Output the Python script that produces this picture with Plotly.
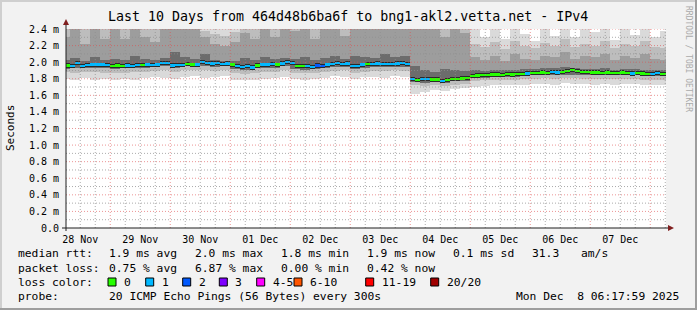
import plotly.graph_objects as go
from datetime import datetime, timedelta

# ---------------- data ----------------
# median RTT (ms), 2-hour bins starting 2025-11-28 06:00
median_ms = [
    1.96, 1.955, 1.99, 1.955, 1.965, 1.97, 1.97, 1.97, 1.965,
    1.95, 1.96, 1.955, 1.96, 1.955, 1.965, 1.965, 1.97, 1.965, 1.97, 1.99, 1.99,
    1.96, 1.965, 1.965, 1.975, 1.97, 1.97, 2.005, 1.99, 1.985, 1.99, 1.98, 1.985,
    1.97, 1.95, 1.945, 1.95, 1.935, 1.96, 1.97, 1.97, 1.975, 1.97, 1.985, 2.0,
    1.99, 1.955, 1.95, 1.95, 1.945, 1.96, 1.95, 1.97, 1.98, 1.99, 1.975, 1.985,
    1.95, 1.95, 1.97, 1.98, 1.975, 1.985, 1.98, 1.975, 1.98, 1.985, 1.99, 1.975,
    1.80, 1.785, 1.795, 1.80, 1.79, 1.79, 1.77, 1.785, 1.80, 1.80, 1.805, 1.81,
    1.835, 1.84, 1.845, 1.845, 1.85, 1.85, 1.845, 1.855, 1.85, 1.855, 1.86, 1.865,
    1.87, 1.87, 1.875, 1.87, 1.88, 1.875, 1.88, 1.89, 1.905, 1.895, 1.885, 1.88,
    1.875, 1.875, 1.87, 1.875, 1.87, 1.87, 1.875, 1.87, 1.865, 1.87, 1.865, 1.86,
    1.86, 1.87, 1.855, 1.86,
]
# lost pings (of 20) per median bin
loss_cnt = [
    0, 1, 1, 1, 1, 1, 1, 1, 1,
    0, 0, 0, 1, 1, 1, 0, 1, 1, 1, 1, 1,
    1, 1, 1, 0, 0, 1, 1, 1, 1, 1, 1, 1,
    0, 1, 1, 1, 1, 0, 1, 1, 1, 0, 1, 1,
    1, 0, 0, 1, 1, 2, 2, 1, 1, 1, 1, 1,
    1, 1, 1, 0, 1, 1, 1, 1, 1, 1, 1, 1,
    1, 0, 1, 1, 0, 0, 1, 0, 0, 0, 0, 0,
    0, 0, 0, 0, 0, 0, 0, 0, 0, 0, 0, 1,
    0, 0, 0, 0, 1, 1, 0, 0, 0, 0, 0, 0,
    0, 0, 0, 0, 0, 0, 0, 0, 1, 0, 0, 0,
    1, 1, 0, 0,
]
# smoke percentiles (ms), 4-hour bins starting 2025-11-28 04:00
smoke_hi = [2.5] * 35 + [2.5] * 6 + [
    2.42, 2.3, 2.45, 2.28, 2.5, 2.34, 2.26, 2.44, 2.32, 2.5,
    2.3, 2.4, 2.36, 2.5, 2.27, 2.45, 2.33, 2.48, 2.3, 2.38]
smoke_p95 = [
    2.5, 2.5, 2.45, 2.5, 2.5,
    2.5, 2.5, 2.5, 2.5, 2.42, 2.5,
    2.5, 2.5, 2.5, 2.38, 2.34, 2.32,
    2.36, 2.5, 2.45, 2.5, 2.5, 2.5,
    2.5, 2.5, 2.45, 2.5, 2.5, 2.5,
    2.5, 2.5, 2.5, 2.5, 2.5, 2.5,
    2.5, 2.5, 2.5, 2.5, 2.5, 2.5,
    2.22, 2.18, 2.24, 2.16, 2.26, 2.2, 2.17, 2.23, 2.2, 2.28,
    2.18, 2.22, 2.2, 2.25, 2.17, 2.22, 2.19, 2.26, 2.18, 2.17]
smoke_p90 = [
    2.3, 2.5, 2.22, 2.45, 2.28,
    2.5, 2.28, 2.45, 2.3, 2.24, 2.5,
    2.5, 2.5, 2.5, 2.3, 2.22, 2.2,
    2.24, 2.35, 2.28, 2.5, 2.3, 2.45,
    2.38, 2.5, 2.28, 2.5, 2.44, 2.32,
    2.5, 2.5, 2.46, 2.5, 2.4, 2.5,
    2.5, 2.4, 2.5, 2.3, 2.45, 2.35,
    2.06, 2.03, 2.08, 2.02, 2.1, 2.04, 2.03, 2.08, 2.06, 2.12,
    2.04, 2.08, 2.06, 2.1, 2.03, 2.08, 2.05, 2.1, 2.04, 2.03]
smoke_p75 = [
    2.03, 2.05, 2.02, 2.06, 2.03,
    2.04, 2.03, 2.08, 2.04, 2.03, 2.05,
    2.12, 2.06, 2.04, 2.1, 2.03, 2.02,
    2.02, 2.05, 2.03, 2.06, 2.04, 2.05,
    2.04, 2.06, 2.03, 2.05, 2.07, 2.04,
    2.08, 2.06, 2.05, 2.1, 2.06, 2.07,
    1.95, 1.9, 1.88, 1.92, 1.9, 1.89,
    1.9, 1.89, 1.91, 1.9, 1.91, 1.92, 1.92, 1.93, 1.93, 1.94,
    1.93, 1.92, 1.92, 1.93, 1.91, 1.92, 1.92, 1.91, 1.91, 1.9]
smoke_p25 = [
    1.92, 1.925, 1.93, 1.93, 1.925,
    1.92, 1.925, 1.93, 1.93, 1.945, 1.95,
    1.93, 1.95, 1.95, 1.955, 1.945, 1.95,
    1.915, 1.905, 1.925, 1.93, 1.935, 1.95,
    1.915, 1.91, 1.92, 1.935, 1.94, 1.945,
    1.92, 1.935, 1.94, 1.94, 1.945, 1.945,
    1.76, 1.75, 1.76, 1.75, 1.77, 1.77,
    1.81, 1.81, 1.82, 1.82, 1.82, 1.83, 1.84, 1.84, 1.84, 1.85,
    1.85, 1.84, 1.84, 1.84, 1.84, 1.84, 1.84, 1.83, 1.83, 1.83]
smoke_p10 = [
    1.88, 1.87, 1.885, 1.88, 1.875,
    1.87, 1.875, 1.88, 1.88, 1.89, 1.9,
    1.88, 1.9, 1.9, 1.905, 1.895, 1.9,
    1.87, 1.86, 1.875, 1.88, 1.885, 1.9,
    1.87, 1.865, 1.87, 1.885, 1.89, 1.9,
    1.87, 1.885, 1.895, 1.89, 1.9, 1.895,
    1.72, 1.71, 1.72, 1.71, 1.73, 1.74,
    1.77, 1.78, 1.78, 1.79, 1.79, 1.8, 1.8, 1.81, 1.8, 1.81,
    1.81, 1.8, 1.8, 1.8, 1.8, 1.8, 1.8, 1.79, 1.79, 1.79]
smoke_lo = [
    1.8, 1.79, 1.81, 1.79, 1.8,
    1.78, 1.8, 1.79, 1.81, 1.82, 1.81,
    1.8, 1.82, 1.83, 1.81, 1.82, 1.83,
    1.79, 1.78, 1.79, 1.8, 1.81, 1.82,
    1.8, 1.79, 1.8, 1.81, 1.83, 1.82,
    1.8, 1.82, 1.82, 1.81, 1.83, 1.82,
    1.62, 1.64, 1.66, 1.65, 1.68, 1.69,
    1.7, 1.71, 1.72, 1.72, 1.73, 1.73, 1.74, 1.74, 1.73, 1.75,
    1.74, 1.74, 1.73, 1.74, 1.73, 1.74, 1.74, 1.72, 1.72, 1.72]

x_tick_labels = ["28 Nov", "29 Nov", "30 Nov", "01 Dec", "02 Dec",
                 "03 Dec", "04 Dec", "05 Dec", "06 Dec", "07 Dec"]
y_tick_vals = [0.0, 0.2, 0.4, 0.6, 0.8, 1.0, 1.2, 1.4, 1.6, 1.8, 2.0, 2.2, 2.4]
y_tick_text = ["0.0", "0.2 m", "0.4 m", "0.6 m", "0.8 m", "1.0 m", "1.2 m",
               "1.4 m", "1.6 m", "1.8 m", "2.0 m", "2.2 m", "2.4 m"]

loss_labels = ["0", "1", "2", "3", "4-5", "6-10", "11-19", "20/20"]
loss_colors = ["#26ff00", "#00b8ff", "#0059ff", "#7e00ff", "#ff00ff",
               "#ff5500", "#ff0000", "#a00000"]

# ---------------- layout helpers ----------------
W, H = 697, 310
L, R, T, B = 66, 666, 29, 228
FONT = "DejaVu Sans Mono"


def px(x):
    return (x - L) / (R - L)


def py(y):
    return (B - y) / (B - T)


def loss_color(n):
    if n <= 3:
        return loss_colors[n]
    if n <= 5:
        return loss_colors[4]
    if n <= 10:
        return loss_colors[5]
    if n <= 19:
        return loss_colors[6]
    return loss_colors[7]


t_start = datetime(2025, 11, 28, 6, 17, 59)
t_end = datetime(2025, 12, 8, 6, 17, 59)

med_x = [datetime(2025, 11, 28, 7, 0) + timedelta(hours=2 * i) for i in range(len(median_ms))]
smk_x = [datetime(2025, 11, 28, 6, 0) + timedelta(hours=4 * k) for k in range(len(smoke_lo))]
W2 = 2 * 3600 * 1000
W4 = 4 * 3600 * 1000

fig = go.Figure()


def band(lo, hi, color):
    fig.add_trace(go.Bar(
        x=smk_x, base=lo, y=[h - l for l, h in zip(lo, hi)], width=W4,
        marker=dict(color=color, line=dict(width=0)), hoverinfo="skip",
        showlegend=False))


band(smoke_lo, smoke_hi, "#dadada")
band(smoke_p10, smoke_p95, "#bdbdbd")
band(smoke_p25, smoke_p90, "#9d9d9d")
band(smoke_p25, smoke_p75, "#6c6c6c")

# dark halo and loss-coloured median
fig.add_trace(go.Bar(
    x=med_x, base=[m - 0.026 for m in median_ms], y=[0.052] * len(median_ms), width=W2,
    marker=dict(color="#2a2a2a", line=dict(width=0)), hoverinfo="skip", showlegend=False))
fig.add_trace(go.Bar(
    x=med_x, base=[m - 0.014 for m in median_ms], y=[0.028] * len(median_ms), width=W2,
    marker=dict(color=[loss_color(n) for n in loss_cnt], line=dict(width=0)),
    hoverinfo="skip", showlegend=False))

shapes = []
# grid (drawn above the smoke, like rrdtool)
MINOR = "rgba(143,143,143,0.75)"
MAJOR = "rgba(222,79,79,0.6)"
d0 = datetime(2025, 11, 28, 0, 0)
for h in range(6, 24 * 11, 6):
    t = d0 + timedelta(hours=h)
    if t <= t_start or t >= t_end:
        continue
    major = (h % 24 == 0)
    shapes.append(dict(type="line", xref="x", yref="y", x0=t, x1=t, y0=0, y1=2.4,
                       layer="above",
                       line=dict(color=MAJOR if major else MINOR, width=1, dash="1px,2px")))
for j in range(1, 25):
    v = j * 0.1
    major = (j % 2 == 0)
    shapes.append(dict(type="line", xref="paper", yref="y", x0=0, x1=1, y0=v, y1=v,
                       layer="above",
                       line=dict(color=MAJOR if major else MINOR, width=1, dash="1px,2px")))

# axes lines and arrows
AX = "#1f1f1f"
ARROW = "#801f1f"
shapes.append(dict(type="line", xref="paper", yref="paper", x0=px(66), x1=px(66),
                   y0=py(231), y1=py(24), line=dict(color=AX, width=1)))
shapes.append(dict(type="line", xref="paper", yref="paper", x0=px(62), x1=px(669),
                   y0=py(228), y1=py(228), line=dict(color=AX, width=1)))
shapes.append(dict(type="path", xref="paper", yref="paper",
                   path=f"M {px(63)} {py(25)} L {px(69)} {py(25)} L {px(66)} {py(19)} Z",
                   fillcolor=ARROW, line=dict(width=0)))
shapes.append(dict(type="path", xref="paper", yref="paper",
                   path=f"M {px(668)} {py(225)} L {px(668)} {py(231)} L {px(674)} {py(228)} Z",
                   fillcolor=ARROW, line=dict(width=0)))

# frame shading
shapes.append(dict(type="rect", xref="paper", yref="paper", x0=px(0), x1=px(697),
                   y0=py(0), y1=py(2), fillcolor="#cfcfcf", line=dict(width=0)))
shapes.append(dict(type="rect", xref="paper", yref="paper", x0=px(0), x1=px(2),
                   y0=py(0), y1=py(310), fillcolor="#cfcfcf", line=dict(width=0)))
shapes.append(dict(type="rect", xref="paper", yref="paper", x0=px(0), x1=px(697),
                   y0=py(308), y1=py(310), fillcolor="#9e9e9e", line=dict(width=0)))
shapes.append(dict(type="rect", xref="paper", yref="paper", x0=px(695), x1=px(697),
                   y0=py(0), y1=py(310), fillcolor="#9e9e9e", line=dict(width=0)))

# legend colour boxes
box_x = [108, 145.7, 182.7, 219.3, 256.7, 294, 365.7, 430.7]
for bx, col in zip(box_x, loss_colors):
    shapes.append(dict(type="rect", xref="paper", yref="paper", x0=px(bx), x1=px(bx + 8),
                       y0=py(286), y1=py(278), fillcolor=col,
                       line=dict(color="#000000", width=1)))

ann = []


def text(x, y, s, size=11.3, anchor="left", color="#000000", angle=0):
    ann.append(dict(x=px(x), y=py(y), xref="paper", yref="paper", text=s,
                    showarrow=False, xanchor=anchor, yanchor="middle", textangle=angle,
                    font=dict(family=FONT, size=size, color=color)))


text(348, 17, "Last 10 Days from 464d48b6ba6f to bng1-akl2.vetta.net - IPv4", 13.3, "center")
text(10, 128, "Seconds", 11, "center", angle=-90)
text(689, 59, "RRDTOOL / TOBI OETIKER", 8, "center", "#aaaaaa", 90)

text(15.5, 254, "median rtt:")
for xx, s in [(107, "1.9 ms avg"), (193, "2.0 ms max"), (279, "1.8 ms min"),
              (365, "1.9 ms now"), (451, "0.1 ms sd"), (530, "31.3"), (579, "am/s")]:
    text(xx, 254, s)
text(15.5, 268, "packet loss:")
for xx, s in [(107, "0.75 % avg"), (193, "6.87 % max"), (279, "0.00 % min"),
              (365, "0.42 % now")]:
    text(xx, 268, s)
text(15.5, 282, "loss color:")
for bx, lab in zip(box_x, loss_labels):
    text(bx + 14, 282, lab)
text(15.5, 296, "probe:")
text(107, 296, "20 ICMP Echo Pings (56 Bytes) every 300s")
text(681, 296, "Mon Dec\u00a0\u00a08 06:17:59 2025", anchor="right")

noons = [datetime(2025, 11, 28, 12, 0) + timedelta(days=d) for d in range(len(x_tick_labels))]

fig.update_layout(
    width=W, height=H,
    margin=dict(l=L, r=W - R, t=T, b=H - B, pad=0),
    paper_bgcolor="#f2f2f2", plot_bgcolor="#ffffff",
    barmode="overlay", bargap=0, showlegend=False,
    shapes=shapes, annotations=ann,
    xaxis=dict(type="date", range=[t_start, t_end], tickvals=noons, ticktext=x_tick_labels,
               showgrid=False, zeroline=False, showline=False, ticks="outside", ticklen=2,
               tickcolor="rgba(0,0,0,0)", tickfont=dict(family=FONT, size=10, color="#000")),
    yaxis=dict(range=[0, 2.4], tickvals=y_tick_vals, ticktext=y_tick_text,
               showgrid=False, zeroline=False, showline=False, ticks="outside", ticklen=4,
               tickcolor="rgba(0,0,0,0)", tickfont=dict(family=FONT, size=10, color="#000")),
)

fig.write_html("out.html")
